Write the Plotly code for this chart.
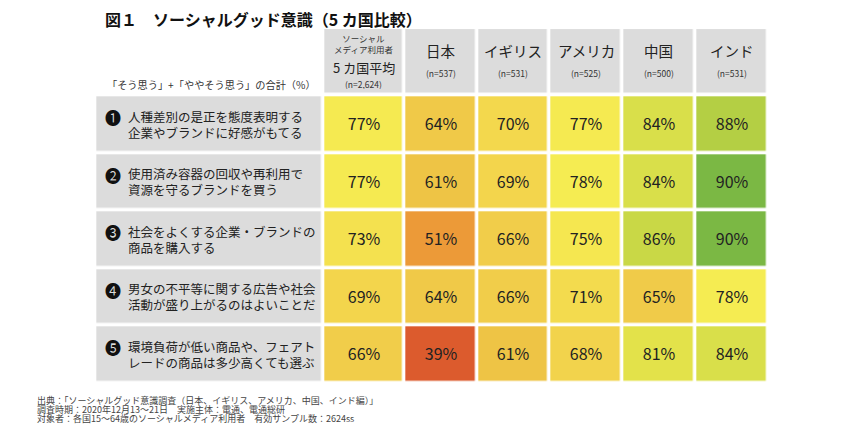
import numpy as np
import plotly.graph_objects as go

# ---------------- data ----------------
title = "図１　ソーシャルグッド意識（5 カ国比較）"
subtitle = "「そう思う」+「ややそう思う」の合計（%）"
col_names = ["5 カ国平均", "日本", "イギリス", "アメリカ", "中国", "インド"]
col_n = ["(n=2,624)", "(n=537)", "(n=531)", "(n=525)", "(n=500)", "(n=531)"]
col0_top = ["ソーシャル", "メディア利用者"]
row_marks = ["❶", "❷", "❸", "❹", "❺"]
row_labels = [
    "人種差別の是正を態度表明する<br>企業やブランドに好感がもてる",
    "使用済み容器の回収や再利用で<br>資源を守るブランドを買う",
    "社会をよくする企業・ブランドの<br>商品を購入する",
    "男女の不平等に関する広告や社会<br>活動が盛り上がるのはよいことだ",
    "環境負荷が低い商品や、フェアト<br>レードの商品は多少高くても選ぶ",
]
avg_vals = [77, 77, 73, 69, 66]
japan_vals = [64, 61, 51, 64, 39]
uk_vals = [70, 69, 66, 66, 61]
us_vals = [77, 78, 75, 71, 68]
china_vals = [84, 84, 86, 65, 81]
india_vals = [88, 90, 90, 78, 84]
footer_lines = [
    "出典：「ソーシャルグッド意識調査（日本、イギリス、アメリカ、中国、インド編）」",
    "調査時期：2020年12月13〜21日　実施主体：電通、電通総研",
    "対象者：各国15〜64歳のソーシャルメディア利用者　有効サンプル数：2624ss",
]

# ---------------- layout constants ----------------
W, H = 850, 446
OFF = 8  # page body margin
FONT = "Noto Sans CJK JP"
GRAY = "#DCDCDC"
col_widths = [1.113, 1, 1, 1, 1, 1]
label_width = 3.134
header_height = 1.17
x_px0, x_unit = 323.3, 72.75
y_px0, y_unit = 95.3, 57.5
GAP = 3.5

x_edges = np.concatenate([[0], np.cumsum(col_widths)])
x_centers = (x_edges[:-1] + x_edges[1:]) / 2
y_edges = np.arange(len(row_labels) + 1)

z = np.array([avg_vals, japan_vals, uk_vals, us_vals, china_vals, india_vals]).T

zmin, zmax = 39, 90
stops = [(39, "#DC5B2D"), (51, "#EC9A38"), (61, "#EEC445"), (66, "#F1CD4A"),
         (70, "#F3D84D"), (75, "#F5E750"), (78, "#F5EC52"), (81, "#E3E24A"),
         (84, "#D9DF4A"), (86, "#C9D846"), (88, "#B4CF44"), (90, "#7BB844")]
colorscale = [[(v - zmin) / (zmax - zmin), c] for v, c in stops]

def ypx(p):
    return (p - y_px0) / y_unit

def xpx(p):
    return (p - x_px0) / x_unit

def px_paper_x(p):
    return (p - OFF) / W

def px_paper_y(p):
    return 1 - (p - OFF) / H

fig = go.Figure()

# header gray cells
fig.add_trace(go.Heatmap(
    z=[[0] * len(col_names)], x=x_edges, y=[-header_height, 0],
    colorscale=[[0, GRAY], [1, GRAY]], showscale=False, hoverinfo="skip",
    xgap=GAP, ygap=GAP))
# label column gray cells
fig.add_trace(go.Heatmap(
    z=[[0] for _ in row_labels], x=[-label_width, 0], y=y_edges,
    colorscale=[[0, GRAY], [1, GRAY]], showscale=False, hoverinfo="skip",
    xgap=GAP, ygap=GAP))
# value cells
fig.add_trace(go.Heatmap(
    z=z, x=x_edges, y=y_edges, zmin=zmin, zmax=zmax,
    colorscale=colorscale, showscale=False, xgap=GAP, ygap=GAP,
    texttemplate="%{z}%", textfont=dict(family=FONT, size=16, color="#222222"),
    hoverinfo="skip"))

ann = []
# header texts
ann.append(dict(x=x_centers[0], y=ypx(43), text="<br>".join(col0_top),
                font=dict(size=8.5, color="#333"), showarrow=False))
ann.append(dict(x=x_centers[0], y=ypx(67.5), text=col_names[0], font=dict(size=13, color="#222"),
                height=15, showarrow=False))
ann.append(dict(x=x_centers[0], y=ypx(84), text=col_n[0], font=dict(size=8.5, color="#333"),
                height=10, showarrow=False))
for i in range(1, len(col_names)):
    ann.append(dict(x=x_centers[i], y=ypx(50), text=col_names[i],
                    font=dict(size=14.5, color="#222"), showarrow=False))
    ann.append(dict(x=x_centers[i], y=ypx(73), text=col_n[i],
                    font=dict(size=8.5, color="#333"), showarrow=False))
# row labels
for r, (m, lab) in enumerate(zip(row_marks, row_labels)):
    ann.append(dict(x=xpx(112.5), y=r + 0.5 - 7 / y_unit, text=m,
                    font=dict(size=16, color="#111"), showarrow=False))
    ann.append(dict(x=xpx(126), y=r + 0.5, text=lab, xanchor="left", align="left",
                    font=dict(size=12.5, color="#222"), showarrow=False))
for a in ann:
    a.setdefault("xref", "x")
    a.setdefault("yref", "y")

# title, subtitle, footer
ann.append(dict(xref="paper", yref="paper", x=px_paper_x(103), y=px_paper_y(18.5),
                text="<b>" + title + "</b>", xanchor="left", yanchor="middle",
                font=dict(size=16, color="#111"), showarrow=False))
ann.append(dict(xref="paper", yref="paper", x=px_paper_x(318), y=px_paper_y(84), text=subtitle,
                xanchor="right", yanchor="middle", font=dict(size=10.2, color="#333"),
                showarrow=False))
footer_text = "<br>".join('<span style="font-size:9px">' + s + "</span>" for s in footer_lines)
ann.append(dict(xref="paper", yref="paper", x=px_paper_x(35), y=px_paper_y(409.3),
                text=footer_text, align="left", xanchor="left", yanchor="middle",
                font=dict(size=6.8, color="#444"), showarrow=False))

fig.update_layout(
    width=W, height=H, margin=dict(l=0, r=0, t=0, b=0),
    paper_bgcolor="white", plot_bgcolor="white",
    font=dict(family=FONT),
    xaxis=dict(range=[xpx(OFF), xpx(W + OFF)], visible=False, fixedrange=True),
    yaxis=dict(range=[ypx(H + OFF), ypx(OFF)], visible=False, fixedrange=True),
    annotations=ann,
)

fig.write_html("out.html")
